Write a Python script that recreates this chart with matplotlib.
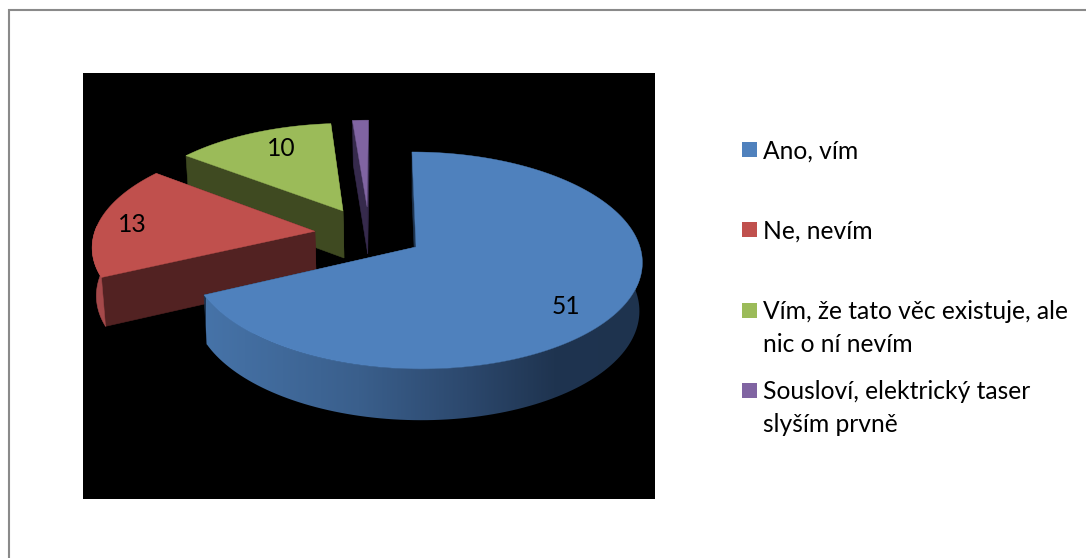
import numpy as np
import matplotlib
matplotlib.use("Agg")
import matplotlib.pyplot as plt
from matplotlib.colors import LinearSegmentedColormap
from matplotlib.patches import Polygon, Rectangle

plt.rcParams["font.family"] = ["Lato", "DejaVu Sans"]

# data
values = [51, 13, 10, 1]
labels = ["Ano, vím", "Ne, nevím", "Vím, že tato věc existuje, ale\nnic o ní nevím",
          "Sousloví, elektrický taser\nslyším prvně"]
data_labels = ["51", "13", "10", ""]

# styles
top_colors = ["#4f81bd", "#c0504d", "#9bbb59", "#8064a2"]
wall_colors = ["#1f3550", "#522222", "#3f4a21", "#362a4c"]
arc_colors = [None, "#a5494a", "#3f4a21", "#362a4c"]
blue_side = LinearSegmentedColormap.from_list(
    "blue_side", [(0, "#4673a8"), (0.35, "#3a5f8c"), (0.6, "#2c486d"), (0.8, "#1f3450"), (1, "#1e334e")])

# layout, in pixels of the picture
explode = [(0, 0), (-0.457, -0.15), (-0.333, -0.352), (-0.221, -0.393)]
label_pos = [(566, 307), (132, 224), (281, 149)]
legend_y = [157, 237, 318, 398]
text_shift = 1.2
line_step = 32.5
X0, Y0, RX, RY, K, SHEAR = 416, 247, 224, 106.8, 0.124, 4.5
DEPTH = 48


def project(u, v):
    s = 1 / (1 - K * v)
    return X0 + (RX * u + SHEAR * v) * s, Y0 + RY * v * s


def drop(u, v):
    # same point on the lower face of the pie
    x, y = project(u, v)
    s = 1 / (1 - K * v)
    return X0 + (x - X0) * 0.987, y + DEPTH * s ** 0.5


def wall(ax, p, q, color, z):
    pts = [project(*p), project(*q), drop(*q), drop(*p)]
    ax.add_patch(Polygon(pts, closed=True, fc=color, ec=color, lw=0.4, zorder=z))


fig = plt.figure(figsize=(10.86, 5.58), dpi=100)
ax = fig.add_axes([0, 0, 1, 1])

ax.plot([8.5, 8.5, 1086], [558, 9.5, 9.5], color="#8a8a8a", lw=1.5, solid_joinstyle="miter")
ax.add_patch(Rectangle((83, 73), 572, 426, fc="black", ec="none", zorder=1))

edges = np.cumsum([0] + values) / sum(values) * 360

# back slices first, the big blue one goes on top of the others
for i in range(len(values) - 1, -1, -1):
    z = 10 + (len(values) - i) * 5
    th = np.radians(np.linspace(edges[i], edges[i + 1], 160))
    ou, ov = explode[i]
    u = ou + np.sin(th)
    v = ov - np.cos(th)

    wall(ax, (ou, ov), (u[-1], v[-1]), wall_colors[i], z)
    wall(ax, (ou, ov), (u[0], v[0]), wall_colors[i], z + 1)

    keep = np.cos(th) <= 0.05  # front of the rim only
    if keep.sum() > 1:
        rim = [project(a, b) for a, b in zip(u[keep], v[keep])]
        rim += [drop(a, b) for a, b in zip(u[keep][::-1], v[keep][::-1])]
        if i == 0:
            clip = Polygon(rim, closed=True, fc="none", ec="none", transform=ax.transData)
            ax.add_patch(clip)
            grad = blue_side(np.linspace(0, 1, 256)).reshape(1, 256, 4)
            im = ax.imshow(grad, extent=(206, 642, 430, 280), aspect="auto",
                           interpolation="bilinear", zorder=z + 2)
            im.set_clip_path(clip)
        else:
            ax.add_patch(Polygon(rim, closed=True, fc=arc_colors[i], ec=arc_colors[i], lw=0.4, zorder=z + 2))

    top = [project(ou, ov)] + [project(a, b) for a, b in zip(u, v)]
    ax.add_patch(Polygon(top, closed=True, fc=top_colors[i], ec=top_colors[i], lw=0.3, zorder=z + 3))

for txt, (x, y) in zip(data_labels, label_pos):
    ax.text(x, y, txt, fontsize=17.7, color="black", ha="center", va="center", zorder=50)

for lab, col, y in zip(labels, top_colors, legend_y):
    ax.add_patch(Rectangle((742, y - 15), 15, 15, fc=col, ec="none"))
    for n, line in enumerate(lab.split("\n")):
        ax.text(763, y + text_shift + n * line_step, line, fontsize=17.7, color="black", ha="left", va="baseline")

ax.set_xlim(0, 1086)
ax.set_ylim(558, 0)
ax.axis("off")

fig.savefig("out.png", dpi=100)
